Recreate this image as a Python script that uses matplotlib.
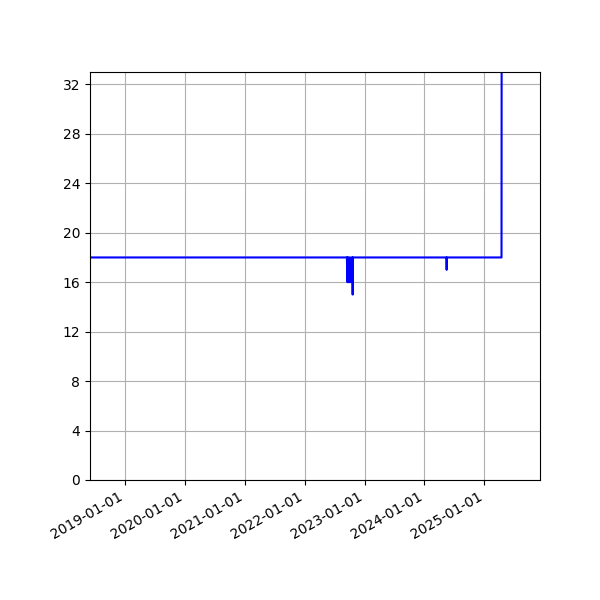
import pandas as pd
import matplotlib
matplotlib.use('Agg')
import matplotlib.pyplot as plt
import matplotlib.dates as mdates
from matplotlib.ticker import MultipleLocator

# change points of the series (value holds until next date)
dates = ['2018-05-01', '2022-09-15', '2022-09-16', '2022-09-17', '2022-09-18',
         '2022-09-19', '2022-09-24', '2022-09-25', '2022-10-01', '2022-10-02',
         '2022-10-09', '2022-10-10', '2022-10-19', '2022-10-20', '2022-10-21',
         '2024-05-15', '2024-05-16', '2024-05-17', '2025-04-16', '2025-04-17',
         '2025-12-31']
values = [18, 18, 17, 18, 16,
          18, 16, 18, 16, 18,
          16, 18, 18, 15, 18,
          18, 17, 18, 18, 40,
          40]

df = pd.DataFrame({'date': pd.to_datetime(dates), 'value': values})

fig, ax = plt.subplots(figsize=(6, 6), dpi=100)
ax.plot(df['date'], df['value'], color='blue', linewidth=1.5)

ax.set_xlim(pd.Timestamp('2018-05-30'), pd.Timestamp('2025-12-07'))
ax.set_ylim(0, 33)
ax.yaxis.set_major_locator(MultipleLocator(4))
ax.xaxis.set_major_locator(mdates.YearLocator())
ax.xaxis.set_major_formatter(mdates.DateFormatter('%Y-%m-%d'))
ax.grid(True)

fig.autofmt_xdate()
fig.subplots_adjust(left=0.15, right=0.9, top=0.88, bottom=0.2)
plt.savefig('out.png')
